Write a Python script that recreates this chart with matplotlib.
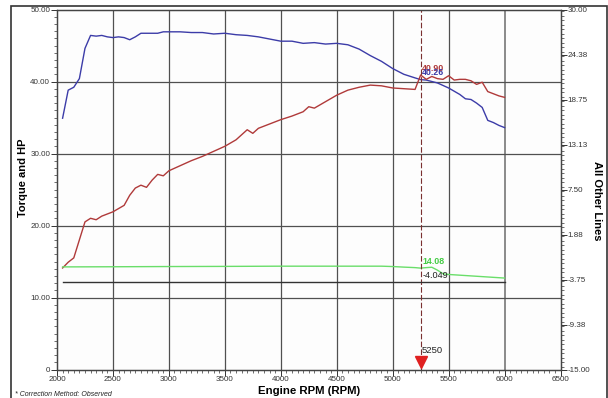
import numpy as np
import matplotlib
matplotlib.use('Agg')
from matplotlib import pyplot as plt
from matplotlib.ticker import MultipleLocator
from matplotlib.patches import Rectangle

plt.rcParams['font.family'] = ['Liberation Sans', 'DejaVu Sans']

# torque (blue) and hp (red), left axis
rpm_tq = [2050, 2100, 2150, 2200, 2250, 2300, 2350, 2400, 2450, 2500, 2550, 2600, 2650, 2700,
          2750, 2800, 2850, 2900, 2950, 3000, 3100, 3200, 3300, 3400, 3500, 3600, 3700, 3800,
          3900, 4000, 4100, 4200, 4300, 4400, 4500, 4600, 4700, 4800, 4900, 5000, 5100, 5200,
          5250, 5300, 5400, 5500, 5600, 5650, 5700, 5750, 5800, 5850, 5900, 5950, 6000]
torque = [34.9, 38.8, 39.2, 40.4, 44.6, 46.4, 46.3, 46.4, 46.2, 46.1, 46.2, 46.1, 45.8, 46.2,
          46.7, 46.7, 46.7, 46.7, 46.9, 46.9, 46.9, 46.8, 46.8, 46.6, 46.7, 46.5, 46.4, 46.2,
          45.9, 45.6, 45.6, 45.3, 45.4, 45.2, 45.3, 45.1, 44.5, 43.6, 42.8, 41.8, 41.0, 40.5,
          40.26, 40.2, 39.8, 39.1, 38.2, 37.6, 37.5, 37.0, 36.4, 34.6, 34.3, 33.9, 33.6]

rpm_hp = [2050, 2100, 2150, 2200, 2250, 2300, 2350, 2400, 2500, 2600, 2650, 2700, 2750, 2800,
          2850, 2900, 2950, 3000, 3100, 3200, 3300, 3400, 3500, 3600, 3700, 3750, 3800, 3900,
          4000, 4100, 4200, 4250, 4300, 4400, 4500, 4600, 4700, 4800, 4900, 5000, 5100, 5200,
          5250, 5300, 5350, 5400, 5450, 5500, 5550, 5600, 5650, 5700, 5750, 5800, 5850, 5900,
          5950, 6000]
hp = [14.1, 14.9, 15.5, 18.0, 20.5, 21.0, 20.8, 21.3, 21.9, 22.8, 24.2, 25.2, 25.6, 25.3,
      26.3, 27.1, 26.9, 27.6, 28.3, 29.0, 29.6, 30.3, 31.0, 31.9, 33.3, 32.8, 33.5, 34.1,
      34.7, 35.2, 35.8, 36.5, 36.3, 37.2, 38.1, 38.8, 39.2, 39.5, 39.4, 39.1, 39.0, 38.9,
      40.9, 40.3, 40.7, 40.4, 40.3, 40.8, 40.2, 40.3, 40.3, 40.1, 39.6, 39.9, 38.6, 38.3,
      38.0, 37.8]

# green line, left axis
rpm_gr = [2050, 2500, 3000, 3500, 4000, 4500, 4900, 5000, 5100, 5200, 5250, 5300, 5350, 5400,
          5450, 5500, 5600, 5700, 5800, 5900, 6000]
green = [14.25, 14.27, 14.3, 14.32, 14.35, 14.35, 14.35, 14.3, 14.22, 14.15, 14.08, 14.15, 14.2,
         13.8, 13.3, 13.2, 13.1, 13.0, 12.9, 12.8, 12.7]

# black line, right axis
rpm_bk = [2050, 6000]
black = [-4.049, -4.049]

cursor_rpm = 5250
left_ticks = [0, 10, 20, 30, 40, 50]
left_labels = ['0', '10.00', '20.00', '30.00', '40.00', '50.00']
right_ticks = [-15.0, -9.375, -3.75, 1.875, 7.5, 13.125, 18.75, 24.375, 30.0]
right_labels = ['-15.00', '-9.38', '-3.75', '1.88', '7.50', '13.13', '18.75', '24.38', '30.00']
x_ticks = [2000, 2500, 3000, 3500, 4000, 4500, 5000, 5500, 6000, 6500]

c_blue = '#3c3ca8'
c_red = '#b03a3a'
c_green = '#6ade6a'
c_grid = '#505050'

fig = plt.figure(figsize=(6.08, 3.98), dpi=100)
fig.patches.append(Rectangle((11 / 608, -0.05), 595.5 / 608, 1 - 6 / 398 + 0.05,
                             transform=fig.transFigure, fill=False,
                             edgecolor='#333333', linewidth=1.2))
ax = fig.add_axes([57 / 608, 1 - 369.5 / 398, 503.5 / 608, 360 / 398])
ax.set_facecolor('#fdfdfd')
ax.set_xlim(2000, 6500)
ax.set_ylim(0, 50)

# grid
for x in x_ticks[1:-1]:
    lw = 1.4 if x == 6000 else 0.9
    col = '#8a8a8a' if x == 6000 else c_grid
    ax.axvline(x, color=col, linewidth=lw, zorder=1)
for y in left_ticks[1:-1]:
    ax.axhline(y, color=c_grid, linewidth=0.9, zorder=1)

ax.plot(rpm_tq, torque, color=c_blue, linewidth=1.0, zorder=3)
ax.plot(rpm_hp, hp, color=c_red, linewidth=1.0, zorder=3)
ax.plot(rpm_gr, green, color=c_green, linewidth=1.0, zorder=3)

ax2 = ax.twinx()
ax2.set_ylim(-15, 30)
ax2.plot(rpm_bk, black, color='#333333', linewidth=1.0, zorder=3)

# cursor
ax.axvline(cursor_rpm, color='#7a3030', linewidth=0.8, linestyle=(0, (5, 2)), zorder=4)
ax.plot([cursor_rpm], [1.0], marker='v', markersize=9, color='#e02020', clip_on=False, zorder=5)
ax.text(cursor_rpm + 5, 2.0, '5250', fontsize=6.8, color='#222222', ha='left', va='bottom')
ax.text(cursor_rpm + 15, 41.8, '40.90', fontsize=6.4, color=c_red, ha='left', va='center',
        fontweight='bold')
ax.text(cursor_rpm + 15, 41.2, '40.26', fontsize=6.4, color=c_blue, ha='left', va='center',
        fontweight='bold')
ax.text(cursor_rpm + 15, 15.0, '14.08', fontsize=6.4, color='#44cc44', ha='left', va='center',
        fontweight='bold')
ax.text(cursor_rpm + 15, 13.0, '-4.049', fontsize=6.6, color='#222222', ha='left', va='center')

# ticks
ax.set_xticks(x_ticks)
ax.set_xticklabels([str(x) for x in x_ticks])
ax.xaxis.set_minor_locator(MultipleLocator(50))
ax.set_yticks(left_ticks)
ax.set_yticklabels(left_labels)
ax.yaxis.set_minor_locator(MultipleLocator(1))
ax2.set_yticks(right_ticks)
ax2.set_yticklabels(right_labels)
ax2.yaxis.set_minor_locator(MultipleLocator(0.5625))
for a in (ax, ax2):
    a.tick_params(which='major', labelsize=5.8, length=4, width=0.7, colors='#333333', pad=1)
    a.tick_params(which='minor', length=2, width=0.5, colors='#333333')
    for s in a.spines.values():
        s.set_color('#444444')
        s.set_linewidth(0.9)

ax.set_xlabel('Engine RPM (RPM)', fontsize=8.2, fontweight='bold')
ax.xaxis.set_label_coords(0.5, -0.06)
ax.xaxis.label.set_va('center')
ax.set_ylabel('Torque and HP', fontsize=8, fontweight='bold')
ax.yaxis.set_label_coords(-0.0675, 0.532)
ax.yaxis.label.set_va('center')
ax2.set_ylabel('All Other Lines', fontsize=8, fontweight='bold', rotation=-90)
ax2.yaxis.set_label_coords(1.073, 0.468)
ax2.yaxis.label.set_va('center')

fig.text(15 / 608, 1 - 395 / 398, '* Correction Method: Observed', fontsize=5, style='italic',
         color='#222222', ha='left', va='center')

fig.savefig('out.png', dpi=100)
